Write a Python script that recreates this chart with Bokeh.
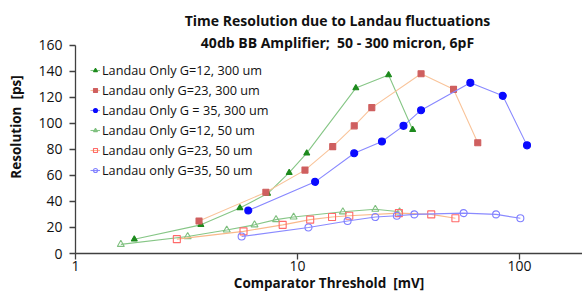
from bokeh.plotting import figure
from bokeh.models import Label, FixedTicker, Legend, Range1d
from bokeh.embed import file_html
from bokeh.resources import INLINE

# Data
g12_300_x = [1.84, 3.67, 5.5, 7.33, 9.17, 11.0, 18.3, 25.7, 33.0]
g12_300_y = [11, 22, 35, 46, 62, 77, 127, 137, 95]
g23_300_x = [3.6, 7.2, 10.8, 14.4, 18.0, 21.6, 36.0, 50.4, 64.8]
g23_300_y = [25, 47, 64, 82, 98, 112, 138, 126, 85]
g35_300_x = [6.0, 12.0, 18.0, 24.0, 30.0, 36.0, 60.0, 84.0, 108.0]
g35_300_y = [33, 55, 77, 86, 98, 110, 131, 121, 83]
g12_50_x = [1.6, 3.2, 4.8, 6.4, 8.0, 9.6, 16.0, 22.4, 28.8]
g12_50_y = [7, 13, 18, 22, 26, 28, 32, 34, 32]
g23_50_x = [2.86, 5.71, 8.57, 11.4, 14.3, 17.1, 28.6, 40.0, 51.4]
g23_50_y = [11, 17, 22, 26, 28, 29, 31, 30, 27]
g35_50_x = [5.6, 11.2, 16.8, 22.4, 28.0, 33.6, 56.0, 78.4, 100.8]
g35_50_y = [13, 20, 25, 28, 29, 30, 31, 30, 27]

x_ticks = [1, 10, 100]
y_ticks = [0, 20, 40, 60, 80, 100, 120, 140, 160]

NB = "\u00a0"
FONT = "Open Sans"

p = figure(width=582, height=303, x_axis_type="log",
           x_range=Range1d(1, 192), y_range=Range1d(0, 194.2),
           output_backend="svg", toolbar_location=None,
           min_border_left=75, min_border_right=0, min_border_top=0,
           min_border_bottom=50)
p.outline_line_color = None
p.grid.visible = False
p.background_fill_color = "white"
p.border_fill_color = "white"

series = [
    (g12_300_x, g12_300_y, "Landau Only G=12, 300 um", "#86c686", "triangle", "#1d8a1d", "#1d8a1d", 6),
    (g23_300_x, g23_300_y, "Landau only G=23, 300 um", "#f9c49a", "square", "#cf5f5f", "#cf5f5f", 6),
    (g35_300_x, g35_300_y, "Landau Only G = 35, 300 um", "#8888ff", "circle", "#0a0aff", "#0a0aff", 7),
    (g12_50_x, g12_50_y, "Landau Only G=12, 50 um", "#86c686", "triangle", "#7fbf7f", None, 7),
    (g23_50_x, g23_50_y, "Landau only G=23, 50 um", "#f9b98a", "square", "#ff6a6a", None, 7),
    (g35_50_x, g35_50_y, "Landau only G=35, 50 um", "#8a8aff", "circle", "#7f7fff", None, 7),
]

items = []
for xs, ys, lab, lc, mk, mlc, mfc, sz in series:
    r1 = p.line(xs, ys, line_color=lc, line_width=1.1)
    r2 = p.scatter(xs, ys, marker=mk, size=sz, line_color=mlc,
                   fill_color=mfc if mfc else "white",
                   fill_alpha=1.0 if mfc else 0.0, line_width=1.1)
    items.append((lab, [r1, r2]))

legend = Legend(items=items, location=(15, 73), margin=0, padding=0,
                spacing=0, glyph_width=10, glyph_height=20, label_height=20,
                label_standoff=2, border_line_color=None,
                background_fill_alpha=0.0,
                label_text_font=FONT, label_text_font_size="12.7px",
                label_text_color="#111111")
p.add_layout(legend, "center")

# Axes
p.xaxis.ticker = FixedTicker(ticks=x_ticks, minor_ticks=[])
p.xaxis.major_label_overrides = {1: "1", 10: "10", 100: "100"}
p.yaxis.ticker = FixedTicker(ticks=y_ticks, minor_ticks=[])
p.yaxis.bounds = (0, 160)
for ax in (p.xaxis, p.yaxis):
    ax.axis_line_color = "#404040"
    ax.axis_line_width = 1.3
    ax.major_tick_line_color = "#404040"
    ax.major_tick_line_width = 1.3
    ax.major_tick_in = 0
    ax.major_tick_out = 6
    ax.minor_tick_line_color = None
    ax.major_label_text_font = FONT
    ax.major_label_text_font_size = "14px"
    ax.major_label_text_color = "#111111"
    ax.axis_label_text_font = FONT
    ax.axis_label_text_font_size = "13.5px"
    ax.axis_label_text_font_style = "bold"
    ax.axis_label_text_color = "#111111"
p.xaxis.axis_label = "Comparator Threshold" + NB + NB + "[mV]"
p.yaxis.axis_label = "Resolution" + NB + NB + "[ps]"
p.xaxis.major_label_standoff = 1
p.xaxis.axis_label_standoff = 0
p.yaxis.major_label_standoff = 7
p.yaxis.axis_label_standoff = 10

# Two-line title, placed in screen pixels relative to the plot frame
title_lines = ["Time Resolution due to Landau fluctuations",
               "40db BB Amplifier;" + NB + NB + "50 - 300 micron, 6pF"]
title_y = [233.5, 211.5]
for txt, ty in zip(title_lines, title_y):
    p.add_layout(Label(x=262, y=ty, x_units="screen", y_units="screen",
                       text=txt, text_align="center", text_baseline="middle",
                       text_font=FONT, text_font_size="14px",
                       text_font_style="bold", text_color="#111111"), "center")

open("out.html", "w").write(file_html(p, INLINE))
